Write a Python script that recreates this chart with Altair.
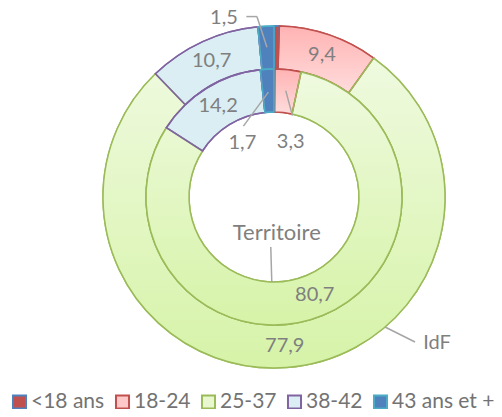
import math
import altair as alt
import numpy as np
import pandas as pd

# ---------------- data ----------------
categories = ["<18 ans", "18-24", "25-37", "38-42", "43 ans et +"]
rings = ["IdF", "Territoire"]
idf_values = [0.5, 9.4, 77.9, 10.7, 1.5]
territoire_values = [0.1, 3.3, 80.7, 14.2, 1.7]

fill_colors = ["#C0504D", "#FFC8C8", "#E8F7D0", "#DAEEF3", "#4F81BD"]
stroke_colors = ["#4F81BD", "#C0504D", "#9BBB59", "#8064A2", "#4BACC6"]

# ---------------- layout ----------------
W, H = 486, 401
CX, CY = 266, 189
RADII = {"IdF": (171, 128), "Territoire": (128, 85)}
FONT = "Lato"
TXT = "#7F7F7F"
LINE = "#A6A6A6"

# labels drawn outside the slice, with a leader line
# (ring, category): anchor radius, polyline offsets, text offset
LEADERS = {
    ("IdF", "43 ans et +"): (150, [(0, 0), (-10, -30.6), (-20.6, -30.6)], (-43, -29.5)),
    ("Territoire", "43 ans et +"): (105, [(0, 0), (-25, 34)], (-26, 51)),
    ("Territoire", "18-24"): (107, [(0, 0), (6.7, 25)], (5, 51.7)),
}
HIDDEN = {("IdF", "<18 ans"), ("Territoire", "<18 ans")}
# series names: anchor angle (deg), radius, line end offset, text offset, size
SERIES = {
    "Territoire": (181.5, 85, (-1, -35), (5, -49), 22),
    "IdF": (139.5, 171, (30, 15), (52, 16), 20),
}


def fmt(v):
    return f"{v:.1f}".replace(".", ",")


rows = []
for ring, vals in zip(rings, [idf_values, territoire_values]):
    cum = np.concatenate([[0.0], np.cumsum(vals)])
    for i, c in enumerate(categories):
        key = (ring, c)
        rows.append(dict(
            ring=ring, category=c, order=i, value=vals[i],
            start=float(cum[i]), end=float(cum[i + 1]),
            mid=float((cum[i] + cum[i + 1]) / 2),
            inlabel="" if (key in LEADERS or key in HIDDEN) else fmt(vals[i]),
        ))
df = pd.DataFrame(rows)


def polar(mid_pct, r):
    a = mid_pct / 100 * 2 * math.pi
    return CX + r * math.sin(a), CY - r * math.cos(a)


seg_rows, txt_rows = [], []
for (ring, cat), (r, pts, toff) in LEADERS.items():
    rec = df[(df.ring == ring) & (df.category == cat)].iloc[0]
    ax, ay = polar(rec.mid, r)
    for (x1, y1), (x2, y2) in zip(pts[:-1], pts[1:]):
        seg_rows.append(dict(x=ax + x1, y=ay + y1, x2=ax + x2, y2=ay + y2))
    txt_rows.append(dict(x=ax + toff[0], y=ay + toff[1], text=fmt(rec.value), size=20))
for ring, (deg, r, lend, toff, size) in SERIES.items():
    ax, ay = polar(deg / 360 * 100, r)
    seg_rows.append(dict(x=ax, y=ay, x2=ax + lend[0], y2=ay + lend[1]))
    txt_rows.append(dict(x=ax + toff[0], y=ay + toff[1], text=ring, size=size))
seg_df = pd.DataFrame(seg_rows)
ann_df = pd.DataFrame(txt_rows)

# ---------------- scales ----------------
theta_scale = alt.Scale(domain=[0, 100])
fill_scale = alt.Scale(domain=categories, range=fill_colors)
stroke_scale = alt.Scale(domain=categories, range=stroke_colors)
xs = alt.Scale(domain=[0, W], range=[0, W], nice=False, zero=False)
ys = alt.Scale(domain=[0, H], range=[0, H], nice=False, zero=False)
legend = alt.Legend(title=None)

green_grad = alt.LinearGradient(
    gradient="linear", x1=0, y1=0, x2=0, y2=1,
    stops=[alt.GradientStop(color="#EFFADF", offset=0),
           alt.GradientStop(color="#D6F3A8", offset=1)])
pink_grad = alt.LinearGradient(
    gradient="linear", x1=0, y1=0, x2=0, y2=1,
    stops=[alt.GradientStop(color="#FFB3B3", offset=0),
           alt.GradientStop(color="#FFDCDC", offset=1)])

layers = []
for ring in rings:
    ro, ri = RADII[ring]
    base = alt.Chart(df).transform_filter(alt.datum.ring == ring)
    enc = dict(
        theta=alt.Theta("start:Q", scale=theta_scale),
        theta2="end:Q",
        radius=alt.value(ro), radius2=alt.value(ri),
        x=alt.value(CX), y=alt.value(CY),
    )
    layers.append(base.mark_arc(strokeWidth=1.5).encode(
        fill=alt.Fill("category:N", scale=fill_scale, legend=legend),
        stroke=alt.Stroke("category:N", scale=stroke_scale, legend=legend),
        **enc))
    for cat, grad in [("18-24", pink_grad), ("25-37", green_grad)]:
        layers.append(base.transform_filter(alt.datum.category == cat)
                      .mark_arc(fill=grad, strokeWidth=0).encode(**enc))
    layers.append(base.mark_arc(fillOpacity=0, strokeWidth=1.5).encode(
        stroke=alt.Stroke("category:N", scale=stroke_scale, legend=legend),
        **enc))
    layers.append(base.mark_text(font=FONT, fontSize=20, color=TXT).encode(
        theta=alt.Theta("mid:Q", scale=theta_scale),
        radius=alt.value((ro + ri) / 2),
        x=alt.value(CX), y=alt.value(CY),
        text="inlabel:N"))

layers.append(alt.Chart(seg_df).mark_rule(color=LINE, strokeWidth=1.5).encode(
    x=alt.X("x:Q", scale=xs, axis=None), y=alt.Y("y:Q", scale=ys, axis=None),
    x2="x2:Q", y2="y2:Q"))
layers.append(alt.Chart(ann_df).mark_text(
    font=FONT, color=TXT, align="center", baseline="middle").encode(
    x=alt.X("x:Q", scale=xs, axis=None), y=alt.Y("y:Q", scale=ys, axis=None),
    size=alt.Size("size:Q", scale=None, legend=None),
    text="text:N"))

chart = alt.layer(*layers).properties(
    width=W, height=H, padding=0,
    autosize=alt.AutoSizeParams(type="none"),
).configure_view(stroke=None).configure_legend(
    orient="none", legendX=1, legendY=383, direction="horizontal", padding=0,
    symbolType="square", symbolSize=170, symbolStrokeWidth=2,
    labelFont=FONT, labelFontSize=21, labelColor="#737373",
    labelOffset=1, columnPadding=6,
)

chart.save("out.html", embed_options={"renderer": "svg", "actions": False})
